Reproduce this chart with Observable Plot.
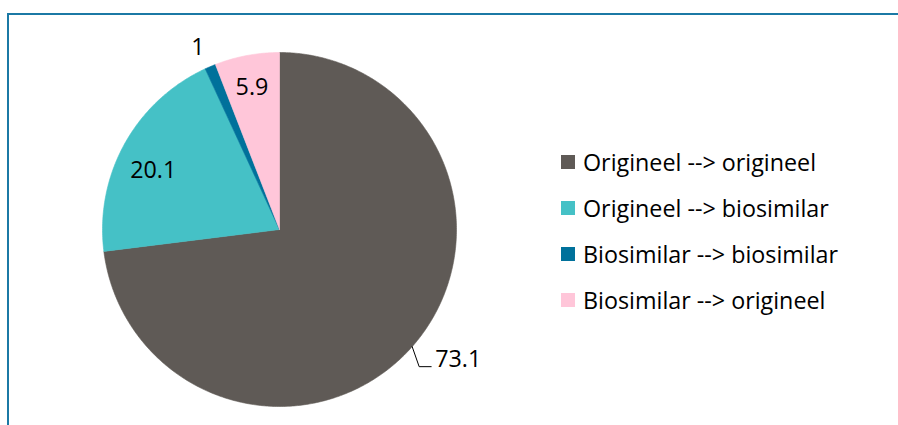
<!DOCTYPE html>
<html>
<head>
<meta charset="utf-8">
<script src="https://cdn.jsdelivr.net/npm/d3@7"></script>
<script src="https://cdn.jsdelivr.net/npm/@observablehq/plot@0.6"></script>
<style>
  html, body { margin: 0; padding: 0; background: #fff; overflow: hidden; }
  #wrap { position: relative; width: 898px; height: 425px; overflow: hidden; font-family: "Open Sans", Lato, sans-serif; }
  #frame { position: absolute; left: 7px; top: 13px; width: 1000px; height: 600px; border: 2px solid #1b79a5; box-sizing: border-box; }
  #chart { position: absolute; left: 0; top: 0; }
  #legend { position: absolute; left: 561px; top: 0; }
  .row { position: absolute; left: 0; display: flex; align-items: center; white-space: nowrap; font-size: 23.3px; color: #000; }
  .sw { width: 14px; height: 14px; margin-right: 8px; }
</style>
</head>
<body>
<div id="wrap">
  <div id="frame"></div>
  <div id="chart"></div>
  <div id="legend"></div>
</div>
<script>
// ---- data ----
const categories = [
  "Origineel --> origineel",
  "Origineel --> biosimilar",
  "Biosimilar --> biosimilar",
  "Biosimilar --> origineel"
];
const values = [73.1, 20.1, 1, 5.9];
const valueLabels = ["73.1", "20.1", "1", "5.9"];

// ---- styles ----
const sliceColors = ["#5f5a56", "#45c1c6", "#00719b", "#ffc6d9"];

const W = 898, H = 425;
const R = 177; // px per data unit (pie radius)

const pie = d3.pie().sort(null).startAngle(0).endAngle(2 * Math.PI);
const arcs = pie(values);

// polygon points for each slice (data units: unit circle, y up)
const slicePts = [];
arcs.forEach((a, i) => {
  const n = Math.max(4, Math.ceil((a.endAngle - a.startAngle) / 0.01));
  slicePts.push({key: categories[i], x: 0, y: 0});
  for (let k = 0; k <= n; k++) {
    const t = a.startAngle + (a.endAngle - a.startAngle) * k / n;
    slicePts.push({key: categories[i], x: Math.sin(t), y: Math.cos(t)});
  }
  slicePts.push({key: categories[i], x: 0, y: 0});
});

// label placement (layout: radius factor and pixel nudges per slice)
const labelLayout = [
  {leader: true},
  {r: 0.79, dx: -4, dy: 9},
  {r: 1.12, dx: -4, dy: 0},
  {r: 0.815, dx: -1, dy: 0}
];
const mid = a => (a.startAngle + a.endAngle) / 2;
const labels = [];
const leaders = [];
arcs.forEach((a, i) => {
  const m = mid(a);
  const L = labelLayout[i];
  if (L.leader) {
    const ex = Math.sin(m), ey = Math.cos(m);
    const bx = ex + 7 / R, by = ey - 20 / R;
    const hx = bx + 12 / R;
    leaders.push({x: ex, y: ey, g: 0}, {x: bx, y: by, g: 0}, {x: hx, y: by, g: 0});
    labels.push({x: hx + 4 / R, y: by + 7 / R, text: valueLabels[i], anchor: "start"});
  } else {
    labels.push({x: L.r * Math.sin(m) + L.dx / R, y: L.r * Math.cos(m) - L.dy / R, text: valueLabels[i], anchor: "middle"});
  }
});

const plot = Plot.plot({
  width: W,
  height: H,
  marginLeft: 102,
  marginRight: W - 456,
  marginTop: 52,
  marginBottom: H - 406,
  x: {domain: [-1, 1], axis: null},
  y: {domain: [-1, 1], axis: null},
  color: {domain: categories, range: sliceColors},
  style: {background: "transparent", fontFamily: "'Open Sans', Lato, sans-serif", overflow: "visible"},
  marks: [
    Plot.line(slicePts, {x: "x", y: "y", z: "key", fill: "key", stroke: "key", strokeWidth: 0.6, curve: "linear"}),
    Plot.line(leaders, {x: "x", y: "y", z: "g", stroke: "#000", strokeWidth: 1}),
    Plot.text(labels.filter(d => d.anchor === "middle"), {x: "x", y: "y", text: "text", fontSize: 23.3, fill: "#000", textAnchor: "middle"}),
    Plot.text(labels.filter(d => d.anchor === "start"), {x: "x", y: "y", text: "text", fontSize: 23.3, fill: "#000", textAnchor: "start"})
  ]
});
document.getElementById("chart").appendChild(plot);

// legend
const leg = document.getElementById("legend");
categories.forEach((c, i) => {
  const row = document.createElement("div");
  row.className = "row";
  row.style.top = (150 + i * 46) + "px";
  row.style.height = "24px";
  const sw = document.createElement("div");
  sw.className = "sw";
  sw.style.background = sliceColors[i];
  const tx = document.createElement("span");
  tx.textContent = c;
  row.appendChild(sw);
  row.appendChild(tx);
  leg.appendChild(row);
});
</script>
</body>
</html>
